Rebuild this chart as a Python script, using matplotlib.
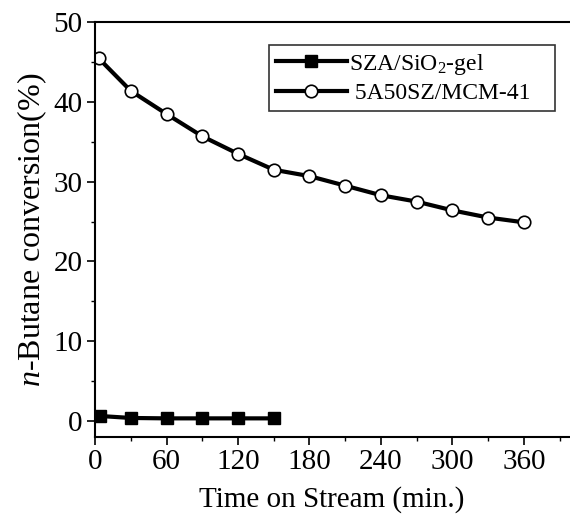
import numpy as np
import matplotlib
matplotlib.use("Agg")
import matplotlib.pyplot as plt
from matplotlib.ticker import MultipleLocator

plt.rcParams["font.family"] = ["Liberation Serif", "DejaVu Serif"]
plt.rcParams["mathtext.fontset"] = "custom"
plt.rcParams["mathtext.rm"] = "Liberation Serif"
plt.rcParams["mathtext.it"] = "Liberation Serif:italic"

# data
vecTimeSZA = [4, 30, 60, 90, 120, 150]
vecConvSZA = [0.6, 0.35, 0.3, 0.3, 0.3, 0.3]

vecTimeMCM = [3, 30, 60, 90, 120, 150, 180, 210, 240, 270, 300, 330, 360]
vecConvMCM = [45.5, 41.4, 38.5, 35.7, 33.5, 31.5, 30.7, 29.5, 28.3, 27.5, 26.4, 25.5, 24.9]

vecLabels = ["SZA/SiO$_2$-gel", " 5A50SZ/MCM-41   "]

fig = plt.figure(figsize=(5.7, 5.16), dpi=100)
ax = fig.add_axes([0.1667, 0.1537, 0.832, 0.803])

ax.plot(vecTimeSZA, vecConvSZA, color="black", linewidth=3, marker="s",
        markersize=8, markerfacecolor="black", markeredgecolor="black", label=vecLabels[0])
ax.plot(vecTimeMCM, vecConvMCM, color="black", linewidth=3, marker="o",
        markersize=9, markerfacecolor="white", markeredgecolor="black",
        markeredgewidth=1.2, label=vecLabels[1])

ax.set_xlim(0, 398)
ax.set_ylim(-2, 50)
ax.xaxis.set_major_locator(MultipleLocator(60))
ax.xaxis.set_minor_locator(MultipleLocator(30))
ax.yaxis.set_major_locator(MultipleLocator(10))
ax.yaxis.set_minor_locator(MultipleLocator(5))
ax.tick_params(which="major", direction="out", length=6, width=1.2, labelsize=21, pad=3)
ax.tick_params(which="minor", direction="out", length=3, width=1.0)
ax.spines["right"].set_visible(False)
for s in ["left", "bottom", "top"]:
    ax.spines[s].set_linewidth(1.5)

ax.set_xlabel("Time on Stream (min.)", fontsize=21, labelpad=8)
ax.set_ylabel("$n$-Butane conversion(%)", fontsize=23, labelpad=3)

leg = ax.legend(loc="upper right", bbox_to_anchor=(0.995, 0.975), fontsize=17,
                frameon=True, fancybox=False, edgecolor="black", handlelength=3.0,
                handletextpad=0.1, borderpad=0.3, labelspacing=0.25)
leg.get_frame().set_linewidth(1.2)

fig.savefig("out.png", dpi=100)
